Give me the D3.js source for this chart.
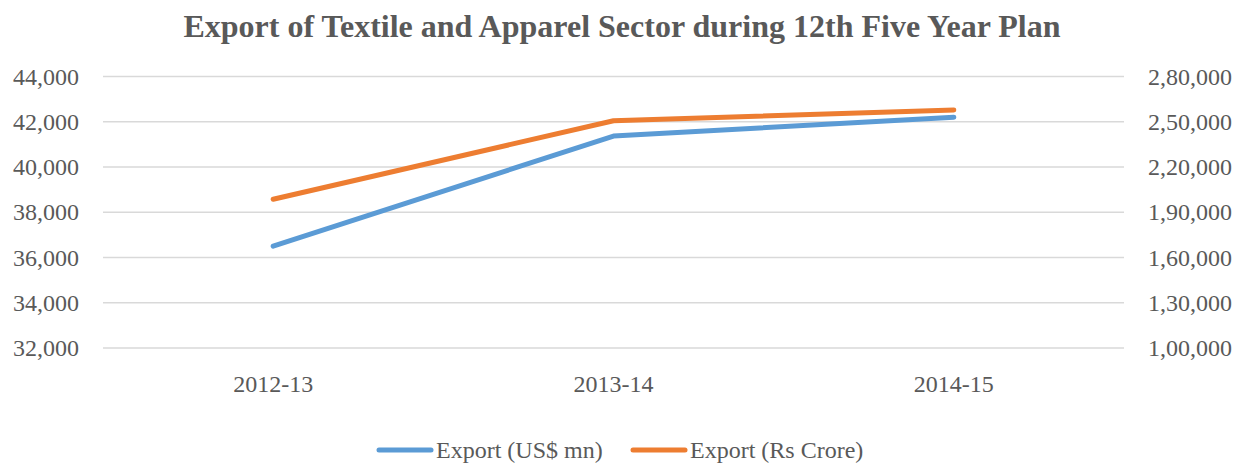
<!DOCTYPE html>
<html><head><meta charset="utf-8">
<script src="https://cdn.jsdelivr.net/npm/d3@7/dist/d3.min.js"></script>
<style>body{margin:0;background:#fff}svg{display:block}text{font-family:"Liberation Serif","Times New Roman",serif;fill:#595959}</style>
</head><body><svg id="c" width="1246" height="463"></svg>
<script>
const categories = ["2012-13","2013-14","2014-15"];
const usdValues = [36500, 41370, 42200];
const rsValues = [198600, 250700, 257800];
const leftTicks = [32000,34000,36000,38000,40000,42000,44000];
const rightTicks = [100000,130000,160000,190000,220000,250000,280000];
const seriesNames = ["Export (US$ mn)","Export (Rs Crore)"];
const colors = ["#5B9BD5","#ED7D31"];

const svg = d3.select("#c");
const L=103, R=1124, T=76.5, B=348;
const FS = "24px";
const x = d3.scaleBand().domain(categories).range([L,R]);
const yL = d3.scaleLinear().domain([32000,44000]).range([B,T]);
const yR = d3.scaleLinear().domain([100000,280000]).range([B,T]);
const fmtL = d3.format(",");
const fmtIN = v => { const s=String(v); const last3=s.slice(-3); let rest=s.slice(0,-3); const parts=[]; while(rest.length>2){parts.unshift(rest.slice(-2)); rest=rest.slice(0,-2);} if(rest) parts.unshift(rest); return parts.join(",")+","+last3; };

svg.append("text").attr("x",622).attr("y",37).attr("text-anchor","middle")
  .style("font-size","32px").style("font-weight","bold").text("Export of Textile and Apparel Sector during 12th Five Year Plan");

// grid
svg.append("g").selectAll("line").data(leftTicks).join("line")
  .attr("x1",L).attr("x2",R).attr("y1",d=>yL(d)).attr("y2",d=>yL(d))
  .attr("stroke","#D9D9D9").attr("stroke-width",1.3);

function styleAxis(g){
  g.select(".domain").remove();
  g.selectAll("text").style("font-size",FS).style("fill","#595959").style("font-family","'Liberation Serif', serif");
}
const gl = svg.append("g").attr("transform",`translate(${L},0)`)
  .call(d3.axisLeft(yL).tickValues(leftTicks).tickFormat(fmtL).tickSize(0).tickPadding(24));
styleAxis(gl);

const gr = svg.append("g").attr("transform",`translate(${R},0)`)
  .call(d3.axisRight(yR).tickValues(rightTicks).tickFormat(fmtIN).tickSize(0).tickPadding(24));
styleAxis(gr);

const gx = svg.append("g").attr("transform",`translate(0,${B})`)
  .call(d3.axisBottom(x).tickSize(0).tickPadding(27));
styleAxis(gx);

const cx = d => x(d)+x.bandwidth()/2;
const lineL = d3.line().x((d,i)=>cx(categories[i])).y(d=>yL(d));
const lineR = d3.line().x((d,i)=>cx(categories[i])).y(d=>yR(d));
svg.append("path").datum(usdValues).attr("d",lineL).attr("fill","none")
  .attr("stroke",colors[0]).attr("stroke-width",5).attr("stroke-linecap","round").attr("stroke-linejoin","round");
svg.append("path").datum(rsValues).attr("d",lineR).attr("fill","none")
  .attr("stroke",colors[1]).attr("stroke-width",5).attr("stroke-linecap","round").attr("stroke-linejoin","round");

// legend
const leg = [{x:379},{x:633}];
seriesNames.forEach((n,i)=>{
  const g = svg.append("g").attr("transform",`translate(${leg[i].x},450)`);
  g.append("line").attr("x1",0).attr("x2",52).attr("stroke",colors[i]).attr("stroke-width",5).attr("stroke-linecap","round");
  g.append("text").attr("x",57).attr("y",8).style("font-size",FS).text(n);
});
</script></body></html>
